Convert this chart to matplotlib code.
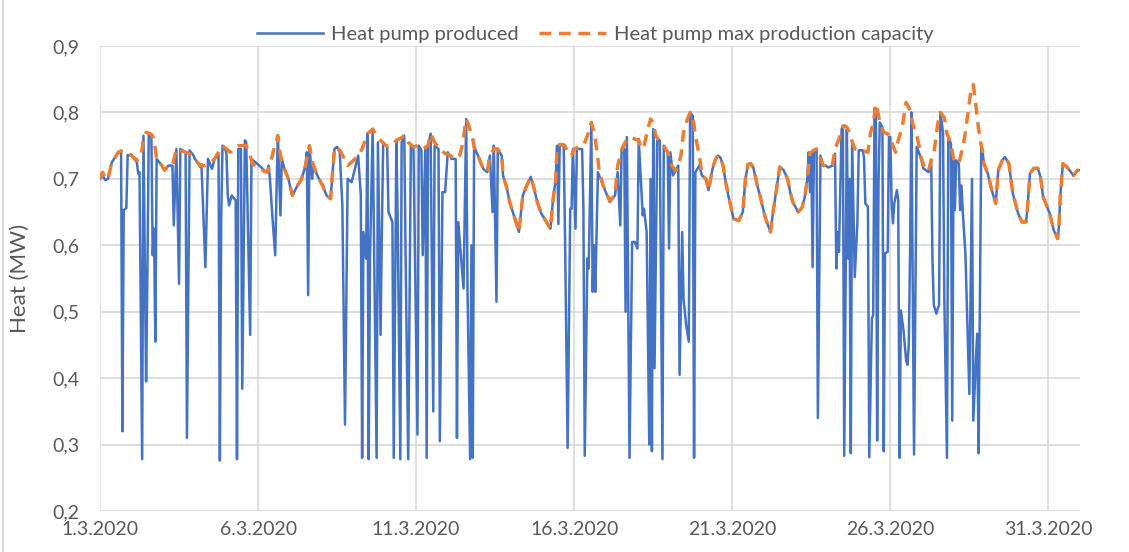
import matplotlib
matplotlib.use("Agg")
import matplotlib.pyplot as plt

# hourly readings, hour 0 = 1.3.2020 00:00, values in MW
produced = [
    (0, .700), (2, .705), (4, .698), (6, .700), (9, .725), (14, .740), (16, .742), (17, .320),
    (18, .653), (20, .656), (21, .736), (24, .735), (28, .725), (29, .708), (30, .710), (32, .278),
    (33, .765), (35, .395), (36, .560), (37, .766), (39, .766), (40, .585), (41, .625), (42, .455),
    (43, .730), (47, .720), (49, .713), (52, .720), (55, .720), (56, .630), (58, .745), (60, .542),
    (61, .745), (65, .740), (66, .310), (68, .743), (71, .735), (72, .730), (74, .725), (76, .718),
    (77, .722), (80, .567), (82, .730), (85, .715), (87, .730), (90, .736), (91, .276), (92, .640),
    (93, .750), (95, .745), (96, .738), (97, .675), (98, .660), (100, .675), (102, .670), (103, .668),
    (104, .278), (105, .745), (107, .745), (108, .384), (110, .758), (111, .755), (114, .465), (115, .730),
    (118, .725), (122, .718), (125, .712), (127, .712), (128, .720), (129, .700), (131, .640), (133, .585),
    (134, .680), (135, .766), (137, .645), (138, .730), (140, .715), (143, .700), (146, .675), (150, .690),
    (153, .700), (156, .720), (157, .740), (158, .525), (159, .750), (161, .700), (162, .720), (165, .705),
    (169, .690), (172, .675), (175, .670), (178, .745), (180, .748), (182, .740), (184, .660), (186, .330),
    (188, .700), (191, .695), (196, .735), (198, .675), (199, .280), (200, .620), (202, .580), (203, .768),
    (204, .278), (205, .585), (207, .775), (210, .280), (211, .755), (213, .465), (214, .625), (215, .755),
    (218, .748), (219, .650), (222, .635), (223, .280), (225, .758), (226, .635), (228, .278), (229, .755),
    (231, .765), (232, .585), (234, .278), (236, .750), (238, .745), (241, .315), (242, .750), (244, .743),
    (245, .585), (247, .745), (248, .280), (249, .750), (251, .768), (253, .350), (254, .750), (257, .745),
    (258, .305), (260, .680), (262, .680), (264, .740), (267, .730), (270, .730), (271, .310), (272, .635),
    (275, .560), (276, .535), (278, .790), (279, .535), (281, .278), (282, .600), (283, .280), (284, .748),
    (287, .735), (291, .715), (294, .710), (296, .735), (298, .650), (299, .750), (301, .515), (302, .745),
    (305, .735), (306, .705), (309, .685), (311, .665), (315, .640), (318, .620), (321, .675), (324, .690),
    (327, .703), (329, .690), (332, .665), (335, .648), (339, .635), (342, .625), (344, .670), (346, .700),
    (347, .750), (348, .632), (349, .750), (352, .752), (353, .620), (355, .295), (357, .655), (358, .655),
    (359, .745), (361, .625), (362, .745), (366, .745), (367, .655), (368, .283), (370, .580), (371, .565),
    (373, .785), (374, .530), (375, .600), (376, .530), (378, .710), (382, .690), (387, .665), (391, .675),
    (393, .710), (395, .630), (396, .745), (398, .745), (399, .500), (400, .763), (402, .280), (404, .605),
    (406, .605), (408, .595), (409, .760), (412, .645), (413, .655), (415, .620), (417, .300), (418, .700),
    (419, .290), (420, .775), (421, .415), (423, .758), (425, .758), (427, .278), (428, .750), (431, .740),
    (432, .595), (433, .740), (435, .705), (439, .720), (440, .405), (442, .620), (443, .520), (445, .480),
    (447, .455), (448, .800), (450, .795), (451, .280), (452, .710), (455, .720), (457, .705), (460, .700),
    (462, .683), (465, .715), (467, .728), (469, .735), (471, .732), (473, .720), (475, .695), (477, .675),
    (481, .640), (485, .637), (488, .650), (490, .700), (492, .722), (494, .723), (496, .717), (499, .690),
    (501, .675), (505, .642), (509, .620), (511, .650), (514, .690), (516, .718), (519, .713), (522, .700),
    (524, .680), (526, .665), (530, .650), (533, .657), (535, .672), (537, .700), (538, .740), (539, .680),
    (540, .738), (541, .567), (542, .740), (544, .745), (545, .340), (547, .735), (549, .720), (551, .720),
    (553, .717), (556, .720), (558, .738), (559, .565), (560, .620), (561, .590), (563, .775), (564, .780),
    (565, .283), (567, .775), (568, .580), (569, .700), (570, .287), (571, .756), (573, .552), (575, .635),
    (576, .743), (579, .743), (580, .733), (581, .663), (583, .658), (584, .281), (586, .490), (587, .495),
    (588, .806), (589, .800), (590, .306), (591, .690), (592, .785), (594, .778), (595, .290), (596, .588),
    (598, .590), (599, .763), (600, .763), (601, .663), (602, .633), (603, .663), (605, .683), (606, .668),
    (607, .280), (608, .502), (610, .472), (612, .427), (613, .420), (614, .450), (615, .590), (616, .800),
    (617, .532), (618, .285), (620, .748), (623, .733), (625, .716), (629, .710), (631, .728), (632, .578),
    (633, .510), (635, .497), (636, .505), (637, .510), (638, .800), (640, .770), (641, .522), (643, .280),
    (644, .763), (646, .753), (647, .336), (648, .728), (649, .653), (650, .728), (652, .723), (653, .653),
    (654, .690), (655, .650), (657, .588), (660, .376), (662, .700), (663, .336), (665, .430), (666, .467),
    (667, .287), (669, .746), (670, .743), (671, .723), (674, .708), (677, .683), (680, .663), (682, .713),
    (685, .728), (687, .733), (690, .723), (693, .678), (695, .663), (697, .648), (700, .635), (703, .635),
    (704, .653), (706, .708), (709, .716), (712, .716), (714, .703), (716, .673), (719, .658), (721, .648),
    (724, .623), (727, .610), (728, .628), (729, .673), (731, .723), (734, .718), (736, .713), (739, .705),
    (742, .713), (743, .713),
]

capacity = [
    (0, .700), (2, .710), (4, .700), (6, .700), (9, .725), (14, .740), (16, .742), (20, .742),
    (24, .735), (28, .728), (30, .730), (32, .745), (33, .762), (35, .770), (38, .768), (40, .765),
    (42, .745), (43, .730), (47, .720), (49, .713), (52, .720), (55, .720), (58, .745), (62, .742),
    (65, .740), (68, .738), (72, .730), (76, .720), (80, .720), (84, .725), (87, .730), (90, .740),
    (93, .750), (96, .745), (99, .740), (102, .745), (105, .750), (108, .750), (111, .750), (114, .735),
    (116, .722), (120, .718), (124, .712), (127, .710), (129, .720), (132, .745), (135, .765), (137, .735),
    (140, .715), (143, .700), (146, .675), (150, .690), (153, .700), (156, .720), (159, .750), (162, .720),
    (165, .705), (169, .690), (172, .675), (175, .670), (178, .745), (180, .748), (183, .740), (186, .728),
    (188, .720), (191, .725), (196, .735), (199, .745), (203, .768), (207, .775), (210, .765), (213, .758),
    (216, .752), (219, .748), (222, .750), (225, .758), (229, .762), (231, .765), (234, .755), (238, .748),
    (242, .750), (245, .745), (249, .750), (251, .768), (254, .755), (258, .745), (262, .738), (266, .735),
    (270, .730), (273, .735), (275, .750), (278, .790), (280, .780), (283, .760), (284, .748), (287, .735),
    (291, .715), (294, .710), (296, .735), (299, .745), (302, .745), (305, .735), (306, .705), (309, .685),
    (311, .665), (315, .640), (318, .620), (321, .675), (324, .690), (327, .703), (329, .690), (332, .665),
    (335, .648), (339, .635), (342, .625), (344, .670), (346, .700), (347, .750), (350, .752), (353, .750),
    (355, .740), (358, .735), (360, .745), (364, .748), (367, .750), (370, .765), (373, .785), (375, .770),
    (376, .760), (378, .730), (379, .710), (382, .690), (387, .667), (391, .675), (393, .720), (395, .735),
    (397, .748), (400, .760), (403, .762), (406, .760), (409, .758), (411, .745), (413, .750), (416, .775),
    (418, .790), (420, .785), (422, .765), (425, .755), (428, .750), (431, .740), (434, .720), (437, .712),
    (439, .720), (441, .735), (443, .770), (446, .790), (448, .800), (450, .795), (452, .765), (455, .735),
    (457, .705), (460, .700), (462, .683), (465, .715), (467, .728), (469, .735), (471, .732), (473, .720),
    (475, .695), (477, .675), (481, .640), (485, .637), (488, .650), (490, .700), (492, .722), (494, .723),
    (496, .717), (499, .690), (501, .675), (505, .642), (509, .620), (511, .650), (514, .690), (516, .718),
    (519, .713), (522, .700), (524, .680), (526, .665), (530, .650), (533, .657), (535, .672), (537, .700),
    (539, .738), (541, .742), (544, .745), (546, .735), (549, .720), (551, .720), (553, .717), (556, .720),
    (558, .745), (561, .760), (563, .775), (565, .780), (567, .778), (569, .770), (571, .756), (573, .745),
    (576, .743), (580, .742), (583, .740), (585, .770), (587, .783), (589, .813), (590, .806), (592, .785),
    (595, .770), (598, .768), (601, .755), (604, .740), (606, .758), (609, .778), (612, .815), (615, .803),
    (617, .783), (620, .766), (622, .748), (623, .733), (627, .713), (629, .712), (631, .728), (633, .738),
    (636, .783), (638, .800), (641, .792), (643, .768), (646, .753), (648, .730), (652, .723), (655, .748),
    (657, .770), (659, .800), (661, .830), (663, .842), (665, .810), (667, .775), (669, .750), (670, .743),
    (671, .723), (674, .708), (677, .683), (680, .663), (682, .713), (685, .728), (687, .733), (690, .723),
    (693, .678), (695, .663), (697, .648), (700, .635), (703, .635), (704, .653), (706, .708), (709, .716),
    (712, .716), (714, .703), (716, .673), (719, .658), (721, .648), (724, .623), (727, .610), (728, .628),
    (729, .673), (731, .723), (734, .718), (736, .713), (739, .705), (742, .713), (743, .713),
]

date_ticks = [0, 120, 240, 360, 480, 600, 720]
date_labels = ["1.3.2020", "6.3.2020", "11.3.2020", "16.3.2020", "21.3.2020", "26.3.2020", "31.3.2020"]
heat_ticks = [0.2, 0.3, 0.4, 0.5, 0.6, 0.7, 0.8, 0.9]
heat_labels = ["0,2", "0,3", "0,4", "0,5", "0,6", "0,7", "0,8", "0,9"]

BLUE = "#4472C4"
ORANGE = "#ED7D31"
GREY = "#595959"
GRID = "#D9D9D9"

plt.rcParams["font.family"] = ["Lato", "DejaVu Sans"]

fig = plt.figure(figsize=(11.29, 5.52), dpi=100)
ax = fig.add_axes([100 / 1129, 1 - 511 / 552, 980 / 1129, 465 / 552])

ph, pv = zip(*produced)
ch, cv = zip(*capacity)
ax.plot(ph, pv, color=BLUE, lw=1.8, label="Heat pump produced", zorder=3)
ax.plot(ch, cv, color=ORANGE, lw=2.5, linestyle=(0, (3.4, 2.2)),
        label="Heat pump max production capacity", zorder=4)

ax.set_xlim(0, 744)
ax.set_ylim(0.2, 0.9)
ax.set_xticks(date_ticks)
ax.set_xticklabels(date_labels)
ax.set_yticks(heat_ticks)
ax.set_yticklabels(heat_labels)
ax.tick_params(axis="both", length=0, labelsize=14, colors=GREY)
ax.tick_params(axis="y", pad=15)
ax.tick_params(axis="x", pad=7)
ax.grid(True, color=GRID, lw=1.2)
ax.set_axisbelow(True)
for s in ax.spines.values():
    s.set_visible(False)

ax.set_ylabel("Heat (MW)", fontsize=16, color=GREY)
ax.yaxis.set_label_coords(-0.072, 0.5)

fig.legend(loc="center", bbox_to_anchor=(0.527, 0.937), ncol=2, frameon=False,
           fontsize=14.5, labelcolor=GREY, handlelength=3.3, handletextpad=0.4,
           columnspacing=1.0)

fig.add_artist(plt.Line2D([3 / 1129, 3 / 1129], [0, 1], color=GRID, lw=1.5))

fig.savefig("out.png", dpi=100)
